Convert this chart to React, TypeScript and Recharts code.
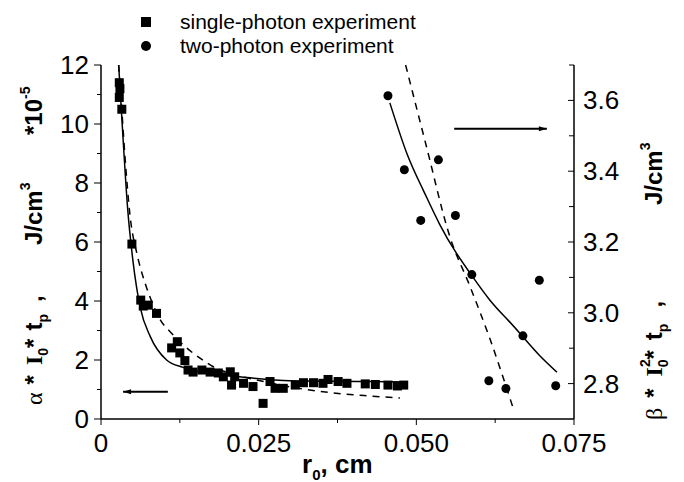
import React from "react";
import {
  ComposedChart, Line, Scatter, XAxis, YAxis, ReferenceLine,
} from "recharts";

// single-photon experiment (left axis, units of 1e-5 J/cm3)
const singleR = [
  0.0029, 0.003, 0.0029, 0.0033, 0.0049, 0.0063, 0.0067, 0.0075, 0.0088, 0.0112,
  0.0121, 0.0125, 0.0133, 0.0138, 0.0146, 0.016, 0.0173, 0.0186, 0.0194, 0.0205,
  0.0207, 0.0212, 0.0226, 0.0241, 0.0257, 0.0268, 0.0276, 0.0289, 0.0308, 0.0321,
  0.0337, 0.0352, 0.036, 0.0376, 0.039, 0.0419, 0.0435, 0.0455, 0.047, 0.048,
];
const singleE = [
  11.4, 11.2, 10.9, 10.5, 5.93, 4.03, 3.83, 3.86, 3.58, 2.41,
  2.62, 2.24, 1.98, 1.66, 1.59, 1.66, 1.59, 1.56, 1.43, 1.6,
  1.15, 1.43, 1.21, 1.1, 0.53, 1.27, 1.04, 1.04, 1.15, 1.23,
  1.23, 1.21, 1.34, 1.27, 1.21, 1.19, 1.17, 1.15, 1.12, 1.15,
];

// two-photon experiment (right axis)
const twoR = [0.0455, 0.0481, 0.0535, 0.0507, 0.0562, 0.0588, 0.0695, 0.0669, 0.0615, 0.0642, 0.0721];
const twoE = [3.613, 3.404, 3.432, 3.261, 3.275, 3.108, 3.092, 2.935, 2.808, 2.786, 2.794];

// fitted curves
const fitSolidR = [0.0028, 0.0035, 0.0042, 0.0051, 0.0062, 0.0078, 0.0104, 0.013, 0.016, 0.022, 0.03, 0.043, 0.048];
const fitSolidE = [12, 9.5, 7.2, 5.3, 3.8, 2.8, 2.0, 1.75, 1.58, 1.43, 1.3, 1.27, 1.25];
const fitDashR = [
  0.0028, 0.0032, 0.0038, 0.0046, 0.0057, 0.007, 0.0082, 0.0094, 0.011, 0.0125,
  0.0157, 0.0183, 0.021, 0.0247, 0.029, 0.0331, 0.038, 0.0427, 0.0474,
];
const fitDashE = [
  12, 10.8, 8.9, 6.9, 5.6, 4.6, 3.9, 3.36, 2.95, 2.62,
  2.06, 1.72, 1.52, 1.32, 1.13, 0.98, 0.86, 0.78, 0.71,
];

const fit2SolidR = [0.0458, 0.0485, 0.051, 0.0537, 0.0563, 0.0588, 0.0617, 0.0645, 0.0669, 0.0695, 0.0723];
const fit2SolidE = [3.593, 3.45, 3.35, 3.25, 3.17, 3.105, 3.035, 2.98, 2.932, 2.88, 2.832];
const fit2DashR = [0.0483, 0.0515, 0.0553, 0.0585, 0.0617, 0.0654];
const fit2DashE = [3.7, 3.477, 3.216, 3.075, 2.925, 2.728];

const xTicks = [0, 0.0125, 0.025, 0.0375, 0.05, 0.0625, 0.075];
const xLabels: Record<string, string> = { "0": "0", "0.025": "0.025", "0.05": "0.050", "0.075": "0.075" };
const leftTicks = [0, 1, 2, 3, 4, 5, 6, 7, 8, 9, 10, 11, 12];
const rightTicks = [2.8, 2.9, 3.0, 3.1, 3.2, 3.3, 3.4, 3.5, 3.6, 3.7];
const rightMajor = [2.8, 3.0, 3.2, 3.4, 3.6];

const zip = (xs: number[], ys: number[]) => xs.map((x, i) => ({ x, y: ys[i] }));

const FONT = "'Liberation Sans', Arial, sans-serif";
const SERIF = "'Liberation Serif', 'Times New Roman', serif";

const XTick = (p: any) => {
  const v = Number(p.payload.value);
  const key = String(+v.toFixed(4));
  const lbl = xLabels[key];
  return (
    <g>
      <line x1={p.x} y1={p.y} x2={p.x} y2={p.y + (lbl ? 6 : 4)} stroke="#000" strokeWidth={1} />
      {lbl && (
        <text x={p.x} y={p.y + 33} textAnchor="middle" fontSize={26} fontFamily={FONT} fill="#000">
          {lbl}
        </text>
      )}
    </g>
  );
};

const LeftTick = (p: any) => {
  const v = Number(p.payload.value);
  const major = v % 2 === 0;
  return (
    <g>
      <line x1={p.x - (major ? 7 : 4)} y1={p.y} x2={p.x} y2={p.y} stroke="#000" strokeWidth={1} />
      {major && (
        <text x={p.x - 12} y={p.y} dy={9} textAnchor="end" fontSize={26} fontFamily={FONT} fill="#000">
          {v}
        </text>
      )}
    </g>
  );
};

const RightTick = (p: any) => {
  const v = Number(p.payload.value);
  const major = rightMajor.some((m) => Math.abs(m - v) < 1e-6);
  return (
    <g>
      <line x1={p.x - (major ? 6 : 5)} y1={p.y} x2={p.x} y2={p.y} stroke="#000" strokeWidth={1} />
      {major && (
        <text x={p.x + 9} y={p.y} dy={9} textAnchor="start" fontSize={26} fontFamily={FONT} fill="#000">
          {v.toFixed(1)}
        </text>
      )}
    </g>
  );
};

const Square = (p: any) => <rect x={p.cx - 4.5} y={p.cy - 4.5} width={9} height={9} fill="#000" />;
const Dot = (p: any) => <circle cx={p.cx} cy={p.cy} r={4.5} fill="#000" />;

const arrow = (dir: "left" | "right") => (p: any) => {
  const { x1, y1, x2, y2 } = p;
  const tipX = dir === "left" ? Math.min(x1, x2) : Math.max(x1, x2);
  const s = dir === "left" ? 1 : -1;
  return (
    <g>
      <line x1={x1} y1={y1} x2={x2} y2={y2} stroke="#000" strokeWidth={2} />
      <polygon points={`${tipX},${y1} ${tipX + s * 8},${y1 - 2.5} ${tipX + s * 8},${y1 + 2.5}`} fill="#000" />
    </g>
  );
};

export default function App() {
  return (
    <div style={{ position: "absolute", left: 0, top: 0, width: 684, height: 482, background: "#fff" }}>
      <ComposedChart width={684} height={482} margin={{ top: 65, right: 0, left: 0, bottom: 0 }}>
        <XAxis
          dataKey="x" type="number" domain={[0, 0.075]} ticks={xTicks} allowDataOverflow
          height={63} tickSize={0} tickMargin={0} tickLine={false} tick={<XTick />}
          axisLine={{ stroke: "#000", strokeWidth: 1.5 }} interval={0}
        />
        <YAxis
          yAxisId="left" type="number" domain={[0, 12]} ticks={leftTicks} allowDataOverflow
          width={101} tickSize={0} tickMargin={0} tickLine={false} tick={<LeftTick />}
          axisLine={{ stroke: "#000", strokeWidth: 1.5 }} interval={0}
        />
        <YAxis
          yAxisId="right" orientation="right" type="number" domain={[2.7, 3.7]} ticks={rightTicks} allowDataOverflow
          width={110} tickSize={0} tickMargin={0} tickLine={false} tick={<RightTick />}
          axisLine={{ stroke: "#000", strokeWidth: 1.5 }} interval={0}
        />
        <Line yAxisId="left" data={zip(fitSolidR, fitSolidE)} dataKey="y" type="monotone" stroke="#000"
          strokeWidth={1.5} dot={false} isAnimationActive={false} />
        <Line yAxisId="left" data={zip(fitDashR, fitDashE)} dataKey="y" type="monotone" stroke="#000"
          strokeWidth={1.5} strokeDasharray="7 6" dot={false} isAnimationActive={false} />
        <Line yAxisId="right" data={zip(fit2SolidR, fit2SolidE)} dataKey="y" type="natural" stroke="#000"
          strokeWidth={1.5} dot={false} isAnimationActive={false} />
        <Line yAxisId="right" data={zip(fit2DashR, fit2DashE)} dataKey="y" type="monotone" stroke="#000"
          strokeWidth={1.5} strokeDasharray="7 6" dot={false} isAnimationActive={false} />
        <Scatter yAxisId="left" data={zip(singleR, singleE)} dataKey="y" shape={<Square />} isAnimationActive={false} />
        <Scatter yAxisId="right" data={zip(twoR, twoE)} dataKey="y" shape={<Dot />} isAnimationActive={false} />
        <ReferenceLine yAxisId="left" segment={[{ x: 0.0035, y: 0.92 }, { x: 0.0106, y: 0.92 }]} shape={arrow("left")} />
        <ReferenceLine yAxisId="right" segment={[{ x: 0.056, y: 3.52 }, { x: 0.0707, y: 3.52 }]} shape={arrow("right")} />
      </ComposedChart>

      <svg width={684} height={482} style={{ position: "absolute", left: 0, top: 0, pointerEvents: "none" }}>
        {/* legend */}
        <rect x={141} y={17} width={10} height={10} fill="#000" />
        <text x={180} y={29} fontSize={21} fontFamily={FONT}>single-photon experiment</text>
        <circle cx={146} cy={46} r={5} fill="#000" />
        <text x={180} y={53} fontSize={21} fontFamily={FONT}>two-photon experiment</text>

        {/* x title */}
        <text x={302} y={473} fontSize={26} fontWeight="bold" fontFamily={FONT}>
          r<tspan fontSize={15} dy={7}>0</tspan><tspan dy={-7}>, cm</tspan>
        </text>

        {/* left title */}
        <g fontWeight="bold" fontSize={24} fontFamily={FONT}>
          <text transform="translate(42,405) rotate(-90)">
            <tspan fontFamily={SERIF} fontWeight="normal">α</tspan>
            <tspan dx={8}>*</tspan>
            <tspan dx={10} fontFamily={SERIF}>I</tspan>
            <tspan fontSize={14} dy={6}>0</tspan>
            <tspan dy={-6}>*</tspan>
            <tspan dx={8}>t</tspan>
            <tspan fontSize={14} dy={6}>p</tspan>
            <tspan dx={12} dy={-6}>,</tspan>
          </text>
          <text transform="translate(42,245) rotate(-90)">
            J/cm<tspan fontSize={14} dy={-12}>3</tspan>
          </text>
          <text transform="translate(42,135) rotate(-90)">
            *10<tspan fontSize={14} dy={-12}>-5</tspan>
          </text>
        </g>

        {/* right title */}
        <g fontWeight="bold" fontSize={24} fontFamily={FONT}>
          <text transform="translate(662,420) rotate(-90)">
            <tspan fontFamily={SERIF} fontWeight="normal">β</tspan>
            <tspan dx={10}>*</tspan>
            <tspan dx={12} fontFamily={SERIF}>I</tspan>
            <tspan fontSize={14} dy={-12}>2</tspan>
            <tspan fontSize={14} dx={-8} dy={18}>0</tspan>
            <tspan dy={-6}>*</tspan>
            <tspan dx={10}>t</tspan>
            <tspan fontSize={14} dy={6}>p</tspan>
            <tspan dx={16} dy={-6}>,</tspan>
          </text>
          <text transform="translate(662,205) rotate(-90)">
            J/cm<tspan fontSize={14} dy={-12}>3</tspan>
          </text>
        </g>
      </svg>
    </div>
  );
}
